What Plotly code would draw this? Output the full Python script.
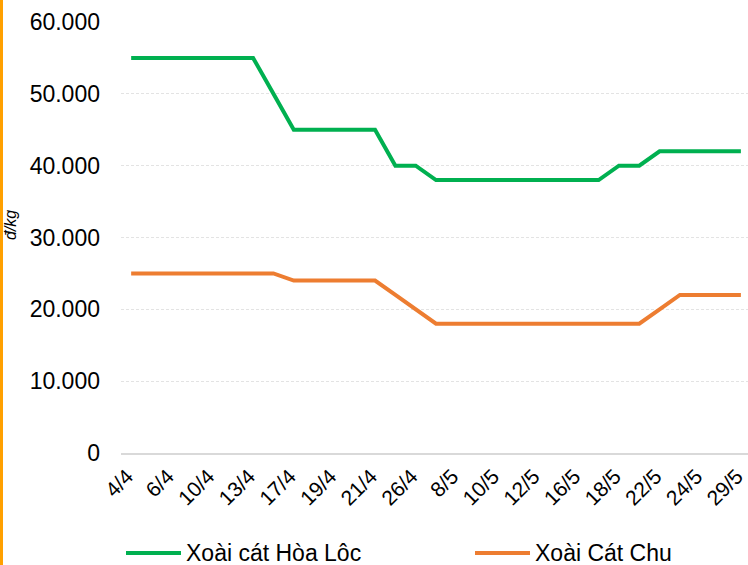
import plotly.graph_objects as go

# 31 observation points; the axis labels every second point
tick_labels = ["4/4", "6/4", "10/4", "13/4", "17/4", "19/4", "21/4", "26/4",
               "8/5", "10/5", "12/5", "16/5", "18/5", "22/5", "24/5", "29/5"]
x_index = list(range(31))
tick_positions = list(range(0, 31, 2))

hoa_loc = [55000, 55000, 55000, 55000, 55000, 55000, 55000, 50000, 45000, 45000,
           45000, 45000, 45000, 40000, 40000, 38000, 38000, 38000, 38000, 38000,
           38000, 38000, 38000, 38000, 40000, 40000, 42000, 42000, 42000, 42000, 42000]
cat_chu = [25000, 25000, 25000, 25000, 25000, 25000, 25000, 25000, 24000, 24000,
           24000, 24000, 24000, 22000, 20000, 18000, 18000, 18000, 18000, 18000,
           18000, 18000, 18000, 18000, 18000, 18000, 20000, 22000, 22000, 22000, 22000]

series_names = ["Xoài cát Hòa Lôc", "Xoài Cát Chu"]
series_colors = ["#00B050", "#ED7D31"]
y_ticks = [0, 10000, 20000, 30000, 40000, 50000, 60000]

FONT = "Liberation Sans, Arial, sans-serif"

fig = go.Figure()
for name, vals, col in zip(series_names, [hoa_loc, cat_chu], series_colors):
    fig.add_trace(go.Scatter(x=x_index, y=vals, mode="lines", name=name,
                             line=dict(color=col, width=4), showlegend=False,
                             hoverinfo="skip"))

ML, MR, MT, MB = 121, 0, 22, 112
W, H = 748, 565
pw, ph = W - ML - MR, H - MT - MB

fig.update_layout(
    width=W, height=H,
    margin=dict(l=ML, r=MR, t=MT, b=MB, autoexpand=False),
    paper_bgcolor="white", plot_bgcolor="white",
    separators=",.",
    font=dict(family=FONT, color="#000000"),
    xaxis=dict(range=[-0.5, 30.35], tickmode="array", tickvals=tick_positions,
               ticktext=tick_labels, tickangle=-45, tickfont=dict(size=21),
               showgrid=False, showline=True, linecolor="#d9d9d9", linewidth=1.5,
               ticks="", zeroline=False, automargin=False, ticklabelshift=-4,
               ticklabelstandoff=1),
    yaxis=dict(range=[0, 60000], tickvals=y_ticks, tickformat=",.0f",
               tickfont=dict(size=23), showgrid=True, gridcolor="#e3e3e3",
               griddash="3px,2px", gridwidth=1, zeroline=False, ticks="",
               ticklabelstandoff=20, showline=False, automargin=False),
)

# y-axis unit label
fig.add_annotation(text="<i>đ/kg</i>", xref="paper", yref="paper",
                   x=(11 - ML) / pw, y=(453 - 225) / ph, textangle=-90,
                   showarrow=False, font=dict(size=16, color="#000000"),
                   xanchor="center", yanchor="middle")

# orange bar on the left edge
fig.add_shape(type="rect", xref="paper", yref="paper",
              x0=-ML / pw, x1=(3 - ML) / pw, y0=-MB / ph, y1=1 + MT / ph,
              fillcolor="#FFA000", line=dict(width=0), layer="above")

# custom legend
leg_y = (453 - 553) / ph
legend_starts = [126, 475]
for name, col, x0 in zip(series_names, series_colors, legend_starts):
    fig.add_shape(type="line", xref="paper", yref="paper",
                  x0=(x0 - ML) / pw, x1=(x0 + 55 - ML) / pw, y0=leg_y, y1=leg_y,
                  line=dict(color=col, width=4))
    fig.add_annotation(text=name, xref="paper", yref="paper",
                       x=(x0 + 58 - ML) / pw, y=leg_y, showarrow=False,
                       xanchor="left", yanchor="middle",
                       font=dict(size=23, color="#000000"))

fig.write_html("out.html", config={"displayModeBar": False},
               post_script="document.body.style.margin='0';document.body.style.overflow='hidden';")
